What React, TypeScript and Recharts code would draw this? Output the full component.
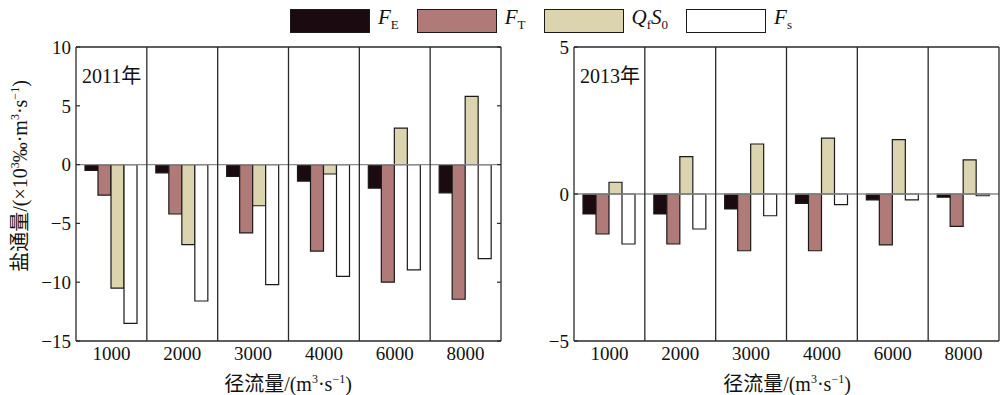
import React from "react"
import { BarChart, Bar, XAxis, YAxis, ReferenceLine } from "recharts"

const categories = ["1000", "2000", "3000", "4000", "6000", "8000"]

// 2011
const fe2011 = [-0.5, -0.7, -1.0, -1.4, -2.0, -2.4]
const ft2011 = [-2.6, -4.2, -5.8, -7.35, -10.0, -11.45]
const q2011 = [-10.5, -6.8, -3.5, -0.8, 3.1, 5.8]
const fs2011 = [-13.5, -11.6, -10.2, -9.5, -8.95, -8.0]

// 2013
const fe2013 = [-0.68, -0.68, -0.51, -0.32, -0.2, -0.11]
const ft2013 = [-1.36, -1.7, -1.93, -1.93, -1.73, -1.1]
const q2013 = [0.4, 1.27, 1.7, 1.9, 1.85, 1.16]
const fs2013 = [-1.7, -1.19, -0.74, -0.36, -0.2, -0.06]

const ticks2011 = [-15, -10, -5, 0, 5, 10]
const ticks2013 = [-5, 0, 5]

const seriesKeys = ["fe", "ft", "q", "fs"]
const fills = ["#1b0a0f", "#b07a78", "#dbd4ae", "#ffffff"]

const FONT = '"Liberation Serif", "Times New Roman", "Noto Sans CJK SC", serif'
const LINE = "#2a2a2a"

function buildRows(fe: number[], ft: number[], q: number[], fs: number[]) {
  return categories.map((cat, i) => ({ cat, fe: fe[i], ft: ft[i], q: q[i], fs: fs[i] }))
}

const minus = (v: number) => String(v).replace("-", "−")

interface PanelProps {
  rows: any[]
  domain: [number, number]
  ticks: number[]
  width: number
  yWidth: number
  marginRight: number
  rightTicks: boolean
}

function Panel({ rows, domain, ticks, width, yWidth, marginRight, rightTicks }: PanelProps) {
  const tickStyle = { fontSize: 19, fill: "#111", fontFamily: FONT }
  return (
    <BarChart
      width={width}
      height={395}
      data={rows}
      margin={{ top: 47, right: marginRight, bottom: 24, left: 0 }}
      barSize={13}
      barGap={0}
    >
      <XAxis
        dataKey="cat"
        interval={0}
        height={30}
        tickLine={false}
        tickSize={0}
        tickMargin={6}
        tick={tickStyle}
        axisLine={{ stroke: LINE, strokeWidth: 1.3 }}
      />
      <YAxis
        yAxisId="v"
        domain={domain}
        ticks={ticks}
        allowDataOverflow
        width={yWidth}
        tickLine={false}
        tickSize={0}
        tickMargin={5}
        tick={tickStyle}
        tickFormatter={minus}
        axisLine={{ stroke: LINE, strokeWidth: 1.3 }}
      />
      <YAxis
        yAxisId="in"
        domain={domain}
        ticks={ticks}
        allowDataOverflow
        mirror
        axisLine={false}
        tickSize={4}
        tickLine={{ stroke: LINE, strokeWidth: 1.2 }}
        tickFormatter={() => ""}
      />
      {rightTicks && (
        <YAxis
          yAxisId="r"
          orientation="right"
          domain={domain}
          ticks={ticks}
          allowDataOverflow
          mirror
          axisLine={false}
          tickSize={4}
          tickLine={{ stroke: LINE, strokeWidth: 1.2 }}
          tickFormatter={() => ""}
        />
      )}
      <ReferenceLine yAxisId="v" y={0} stroke="#8a8a8a" strokeWidth={1.3} />
      <ReferenceLine yAxisId="v" y={domain[1]} stroke={LINE} strokeWidth={1.3} />
      {categories.slice(1).map((c) => (
        <ReferenceLine key={c} yAxisId="v" x={c} position="start" stroke={LINE} strokeWidth={1.3} />
      ))}
      <ReferenceLine
        yAxisId="v"
        x={categories[categories.length - 1]}
        position="end"
        stroke={LINE}
        strokeWidth={1.3}
      />
      {seriesKeys.map((k, i) => (
        <Bar
          key={k}
          dataKey={k}
          yAxisId="v"
          fill={fills[i]}
          stroke="#1a1a1a"
          strokeWidth={1.2}
          isAnimationActive={false}
        />
      ))}
    </BarChart>
  )
}

const legendItems = [
  { main: "F", sub: "E" },
  { main: "F", sub: "T" },
  { main: "Q", sub: "f", main2: "S", sub2: "0" },
  { main: "F", sub: "s" },
]

function LegendBar() {
  return (
    <div
      style={{
        position: "absolute",
        left: 290,
        top: 5,
        display: "flex",
        alignItems: "center",
        fontFamily: FONT,
        fontSize: 21,
        color: "#111",
      }}
    >
      {legendItems.map((it, i) => (
        <div key={i} style={{ display: "flex", alignItems: "center", marginRight: 18 }}>
          <div
            style={{
              width: 80,
              height: 24,
              background: fills[i],
              border: "1.3px solid #1a1a1a",
              boxSizing: "border-box",
            }}
          />
          <span style={{ marginLeft: 8, whiteSpace: "nowrap", lineHeight: "24px" }}>
            <i>{it.main}</i>
            <sub style={{ fontSize: 13 }}>{it.sub}</sub>
            {it.main2 && <i>{it.main2}</i>}
            {it.sub2 && <sub style={{ fontSize: 13 }}>{it.sub2}</sub>}
          </span>
        </div>
      ))}
    </div>
  )
}

const textBase: React.CSSProperties = {
  position: "absolute",
  fontFamily: FONT,
  color: "#111",
  whiteSpace: "nowrap",
}

function XLabel({ center }: { center: number }) {
  return (
    <div style={{ ...textBase, left: center, top: 382, fontSize: 20, transform: "translate(-50%, -50%)" }}>
      径流量/(m<sup style={{ fontSize: 12 }}>3</sup>·s<sup style={{ fontSize: 12 }}>−1</sup>)
    </div>
  )
}

export default function App() {
  const rows2011 = buildRows(fe2011, ft2011, q2011, fs2011)
  const rows2013 = buildRows(fe2013, ft2013, q2013, fs2013)
  return (
    <div style={{ position: "absolute", left: 0, top: 0, width: 1000, height: 395, background: "#fff", overflow: "hidden" }}>
      <div style={{ position: "absolute", left: 0, top: 0 }}>
        <Panel rows={rows2011} domain={[-15, 10]} ticks={ticks2011} width={510} yWidth={76} marginRight={9} rightTicks />
      </div>
      <div style={{ position: "absolute", left: 500, top: 0 }}>
        <Panel rows={rows2013} domain={[-5, 5]} ticks={ticks2013} width={500} yWidth={74} marginRight={1} rightTicks={false} />
      </div>
      <LegendBar />
      <div style={{ ...textBase, left: 82, top: 60, fontSize: 20 }}>2011年</div>
      <div style={{ ...textBase, left: 580, top: 60, fontSize: 20 }}>2013年</div>
      <div
        style={{
          ...textBase,
          left: 18,
          top: 176,
          fontSize: 20,
          transform: "translate(-50%, -50%) rotate(-90deg)",
        }}
      >
        盐通量/(×10<sup style={{ fontSize: 12 }}>3</sup>‰·m<sup style={{ fontSize: 12 }}>3</sup>·s
        <sup style={{ fontSize: 12 }}>−1</sup>)
      </div>
      <XLabel center={288} />
      <XLabel center={787} />
    </div>
  )
}
